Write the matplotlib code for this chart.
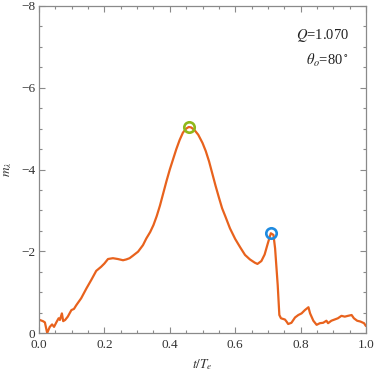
import matplotlib
matplotlib.use("Agg")
import matplotlib.pyplot as plt
from matplotlib.ticker import MultipleLocator

# Data (t/Te, m_lambda)
t = [0.0, 0.002, 0.012, 0.018, 0.025, 0.033, 0.040, 0.046, 0.053, 0.060, 0.064,
     0.070, 0.074, 0.080, 0.088, 0.099, 0.107, 0.114, 0.129, 0.145, 0.160, 0.175,
     0.190, 0.200, 0.211, 0.226, 0.241, 0.257, 0.267, 0.277, 0.287, 0.303, 0.318,
     0.328, 0.340, 0.350, 0.360, 0.370, 0.380, 0.390, 0.400, 0.410, 0.420, 0.430,
     0.440, 0.450, 0.458, 0.465, 0.475, 0.487, 0.500, 0.510, 0.520, 0.530, 0.540,
     0.550, 0.560, 0.570, 0.584, 0.600, 0.615, 0.630, 0.645, 0.660, 0.668, 0.680,
     0.690, 0.700, 0.709,
     0.717, 0.722, 0.730, 0.735, 0.740, 0.752, 0.757, 0.762, 0.772, 0.783, 0.793,
     0.803, 0.813, 0.824, 0.829, 0.839, 0.849, 0.859, 0.869, 0.879, 0.884, 0.894,
     0.904, 0.914, 0.925, 0.935, 0.945, 0.956, 0.963, 0.973, 0.983, 0.994, 0.999]
m = [-0.32, -0.32, -0.29, -0.26, 0.0, -0.15, -0.21, -0.15, -0.26, -0.36, -0.32,
     -0.48, -0.29, -0.32, -0.40, -0.56, -0.59, -0.68, -0.85, -1.09, -1.30, -1.52,
     -1.62, -1.70, -1.81, -1.83, -1.81, -1.78, -1.80, -1.83, -1.89, -1.99, -2.15,
     -2.31, -2.47, -2.64, -2.86, -3.12, -3.42, -3.72, -4.00, -4.25, -4.50, -4.72,
     -4.90, -5.00, -5.04, -5.03, -4.97, -4.85, -4.65, -4.45, -4.20, -3.90, -3.60,
     -3.32, -3.05, -2.85, -2.56, -2.30, -2.10, -1.91, -1.80, -1.72, -1.69, -1.76,
     -1.92, -2.20, -2.44,
     -2.40, -2.07, -1.17, -0.44, -0.36, -0.33, -0.28, -0.22, -0.25, -0.38, -0.44,
     -0.48, -0.56, -0.63, -0.48, -0.30, -0.20, -0.24, -0.25, -0.30, -0.24, -0.30,
     -0.33, -0.36, -0.42, -0.40, -0.42, -0.44, -0.36, -0.30, -0.28, -0.24, -0.18]

peak1 = (0.458, -5.04)
peak2 = (0.709, -2.44)

plt.rcParams['mathtext.fontset'] = 'stix'
plt.rcParams['font.family'] = ['Liberation Serif', 'DejaVu Serif']

fig = plt.figure(figsize=(3.74, 3.72), dpi=100)
ax = fig.add_axes([39/374, 1-333/372, 327/374, 327/372])

ax.plot(t, m, color='#e8621d', lw=1.6, zorder=2)
ax.plot([peak1[0]], [peak1[1]], 'o', ms=7.5, mfc='none', mec='#8fb81a', mew=1.9, zorder=3)
ax.plot([peak2[0]], [peak2[1]], 'o', ms=7.5, mfc='none', mec='#1f8be0', mew=1.9, zorder=3)

ax.set_xlim(0, 1)
ax.set_ylim(0, -8)
ax.xaxis.set_major_locator(MultipleLocator(0.2))
ax.xaxis.set_minor_locator(MultipleLocator(0.05))
ax.yaxis.set_major_locator(MultipleLocator(2))
ax.yaxis.set_minor_locator(MultipleLocator(0.5))

gray = '#8a8a8a'
for s in ax.spines.values():
    s.set_color(gray)
    s.set_linewidth(0.9)
ax.tick_params(which='both', direction='in', top=True, right=True, color=gray,
               labelcolor='#333333', labelsize=9.5, width=0.8)
ax.tick_params(axis='x', pad=4.5)
ax.tick_params(axis='y', pad=2.5)
ax.tick_params(which='major', length=4)
ax.tick_params(which='minor', length=2.5)

ax.set_xlabel(r'$t/T_e$', fontsize=9.5, color='#333333', labelpad=4)
ax.set_ylabel(r'$m_\lambda$', fontsize=9.5, color='#333333', labelpad=5)

ax.text(0.948, 0.911, r'$Q$=1.070', transform=ax.transAxes, ha='right', va='center',
        fontsize=10.5, color='#222222')
ax.text(0.948, 0.835, r'$\theta_o$=80$^\circ$', transform=ax.transAxes, ha='right', va='center',
        fontsize=10.5, color='#222222')

fig.savefig('out.png', dpi=100)
